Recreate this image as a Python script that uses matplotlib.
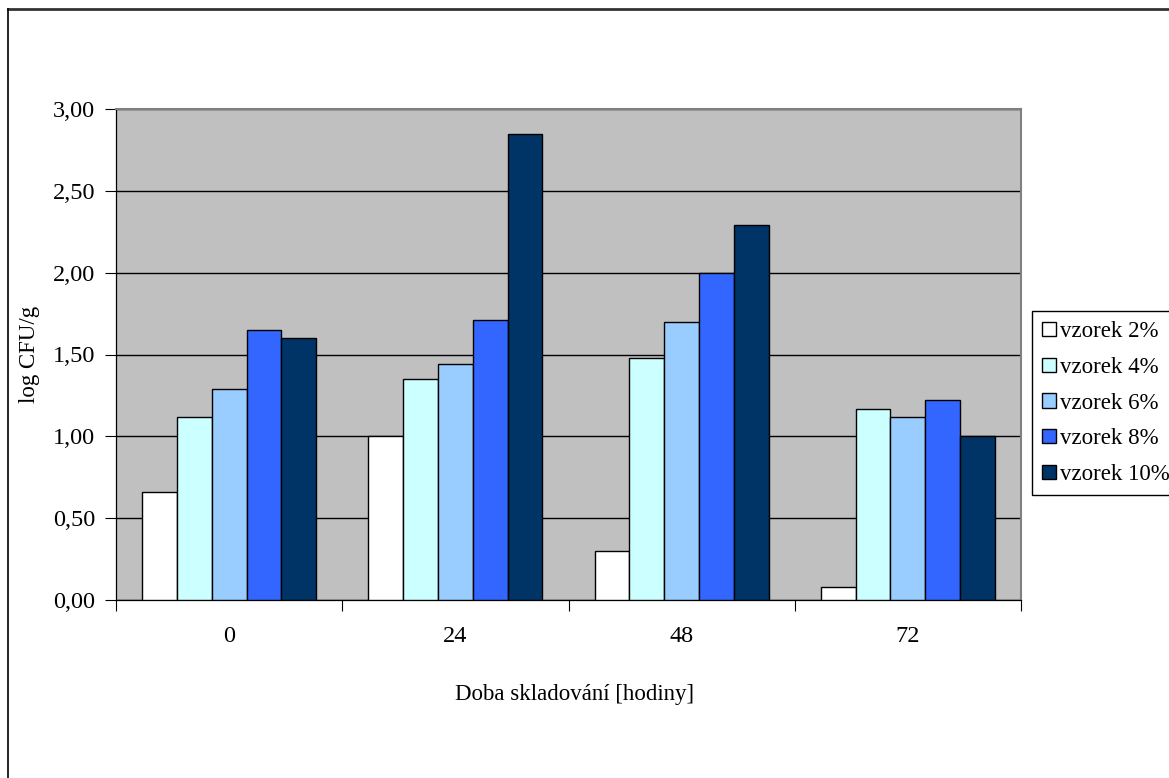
import matplotlib
matplotlib.use("Agg")
import matplotlib.pyplot as plt
from matplotlib.lines import Line2D
from matplotlib.ticker import FuncFormatter
import numpy as np

categories = ["0", "24", "48", "72"]
series_names = ["vzorek 2%", "vzorek 4%", "vzorek 6%", "vzorek 8%", "vzorek 10%"]
v2 = [0.66, 1.00, 0.30, 0.08]
v4 = [1.12, 1.35, 1.48, 1.17]
v6 = [1.29, 1.44, 1.70, 1.12]
v8 = [1.65, 1.71, 2.00, 1.22]
v10 = [1.60, 2.85, 2.29, 1.00]
colors = ["#FFFFFF", "#CCFFFF", "#99CCFF", "#3366FF", "#003366"]
y_ticks = [0, 0.5, 1.0, 1.5, 2.0, 2.5, 3.0]

plt.rcParams['font.family'] = ['Liberation Serif', 'DejaVu Serif']
FS = 16.5
TFS = 17.5

W, H = 1169, 778
fig = plt.figure(figsize=(W / 100, H / 100), dpi=100)

def fx(px):
    return px / W

def fy(py):
    return 1 - py / H

ax = fig.add_axes([fx(116), fy(600), fx(1021) - fx(116), fy(109) - fy(600)])
ax.set_facecolor("#C0C0C0")

series = [v2, v4, v6, v8, v10]
x = np.arange(len(categories))
bw = 1 / 6.5
for i, (vals, c, name) in enumerate(zip(series, colors, series_names)):
    ax.bar(x + (i - 2) * bw, vals, width=bw, color=c, edgecolor="black",
           linewidth=1.0, label=name, zorder=3)

ax.set_xlim(-0.5, len(categories) - 0.5)
ax.set_ylim(0, 3)
ax.set_yticks(y_ticks)
ax.yaxis.set_major_formatter(FuncFormatter(lambda v, p: f"{v:.2f}".replace(".", ",")))
ax.set_axisbelow(True)
ax.yaxis.grid(True, color="black", linewidth=1.0)

ax.set_xticks(np.arange(len(categories) + 1) - 0.5)
ax.set_xticklabels([])
ax.set_xticks(x, minor=True)
ax.set_xticklabels(categories, minor=True)
ax.tick_params(axis="x", which="major", direction="out", length=8, width=0.8, color="black")
ax.tick_params(axis="x", which="minor", length=0, pad=19, labelsize=TFS)
ax.tick_params(axis="y", direction="out", length=8, width=0.8, pad=7, labelsize=TFS)

for s in ["left", "bottom"]:
    ax.spines[s].set_color("black")
    ax.spines[s].set_linewidth(0.9)
for s in ["top", "right"]:
    ax.spines[s].set_color("#808080")
    ax.spines[s].set_linewidth(1.5)

fig.text(fx(575), fy(700), "Doba skladování [hodiny]", ha="center", va="baseline", fontsize=FS)
fig.text(fx(30), fy(354.5), "log CFU/g", ha="center", va="center", rotation=90, fontsize=FS)

leg = fig.legend(loc="upper left", bbox_to_anchor=(fx(1032), fy(311)), fontsize=FS,
                 frameon=True, fancybox=False, edgecolor="black", framealpha=1,
                 handlelength=0.6, handleheight=0.57, handletextpad=0.15,
                 borderpad=0.45, labelspacing=0.64, borderaxespad=0)
leg.get_frame().set_linewidth(1.0)

fig.add_artist(Line2D([fx(8), fx(1169)], [fy(9), fy(9)], color="#333333", linewidth=2.0))
fig.add_artist(Line2D([fx(8), fx(8)], [fy(9), fy(778)], color="black", linewidth=1.2))

fig.savefig("out.png", dpi=100)
